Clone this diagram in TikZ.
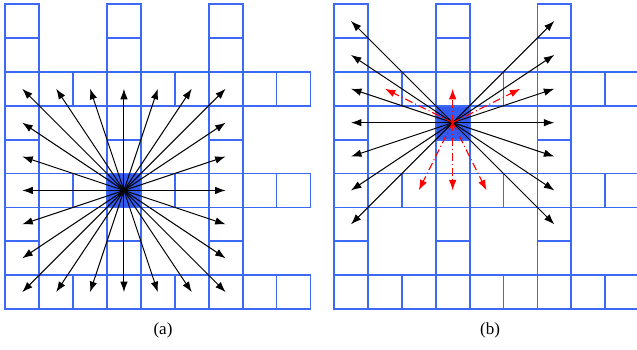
\documentclass[tikz,border=0pt]{standalone}
\usepackage{fontspec}
\setmainfont{Liberation Serif}
\usetikzlibrary{arrows.meta}
\definecolor{gridblue}{RGB}{60,105,245}
\definecolor{fillblue}{RGB}{50,90,240}
\begin{document}
\begin{tikzpicture}[x=1pt,y=-1pt,
  cell/.style={draw=gridblue, line width=1.8pt},
  hot/.style={cell, fill=fillblue},
  ray/.style={line width=1pt, -{Latex[length=10.5pt,width=7.5pt]}},
  redray/.style={red, line width=1.1pt, dash pattern=on 8pt off 3pt on 1pt off 3pt, -{Latex[length=10.5pt,width=7.5pt]}},
  caption/.style={font=\fontsize{17}{19}\selectfont, inner sep=0pt}]
\useasboundingbox (0,0) rectangle (637,349);
\def\s{33.9}
\begin{scope}
  \clip (0,0) rectangle (637,349);
  \foreach \ox in {5.3,334}{
    \foreach \c in {0,3,6}{\foreach \r in {0,...,8}{
      \draw[cell] (\ox+\c*\s,4+\r*\s) rectangle ++(\s,\s);}}
    \foreach \r in {2,5,8}{\foreach \c in {0,...,8}{
      \draw[cell] (\ox+\c*\s,4+\r*\s) rectangle ++(\s,\s);}}
  }
  \draw[hot] (5.3+3*\s,4+5*\s) rectangle ++(\s,\s);
  \draw[hot] (334+3*\s,4+3*\s) rectangle ++(\s,\s);
\end{scope}
\coordinate (ca) at (5.3+3.5*\s,4+5.5*\s);
\coordinate (cb) at (334+3.5*\s,4+3.5*\s);
% panel (a): 24 rays
\foreach \i in {-3,...,3}{\foreach \j in {-3,...,3}{
  \pgfmathtruncatemacro\m{max(abs(\i),abs(\j))}
  \ifnum\m=3
    \coordinate (ta\i\j) at ([shift={(\i*\s,\j*\s)}]ca);
    \draw[ray] (ca) -- (ta\i\j);
  \fi}}
% panel (b): 14 black rays
\foreach \i in {-3,3}{\foreach \j in {-3,...,3}{
  \coordinate (tb\i\j) at ([shift={(\i*\s,\j*\s)}]cb);
  \draw[ray] (cb) -- (tb\i\j);}}
% panel (b): red dashed rays
\foreach \i/\j in {0/-1,-2/-1,2/-1,-1/2,0/2,1/2}{
  \coordinate (rb\i\j) at ([shift={(\i*\s,\j*\s)}]cb);
  \draw[redray] (cb) -- (rb\i\j);}
\node[caption] (capa) at (163,330) {(a)};
\node[caption] (capb) at (490,330) {(b)};
\end{tikzpicture}
\end{document}
